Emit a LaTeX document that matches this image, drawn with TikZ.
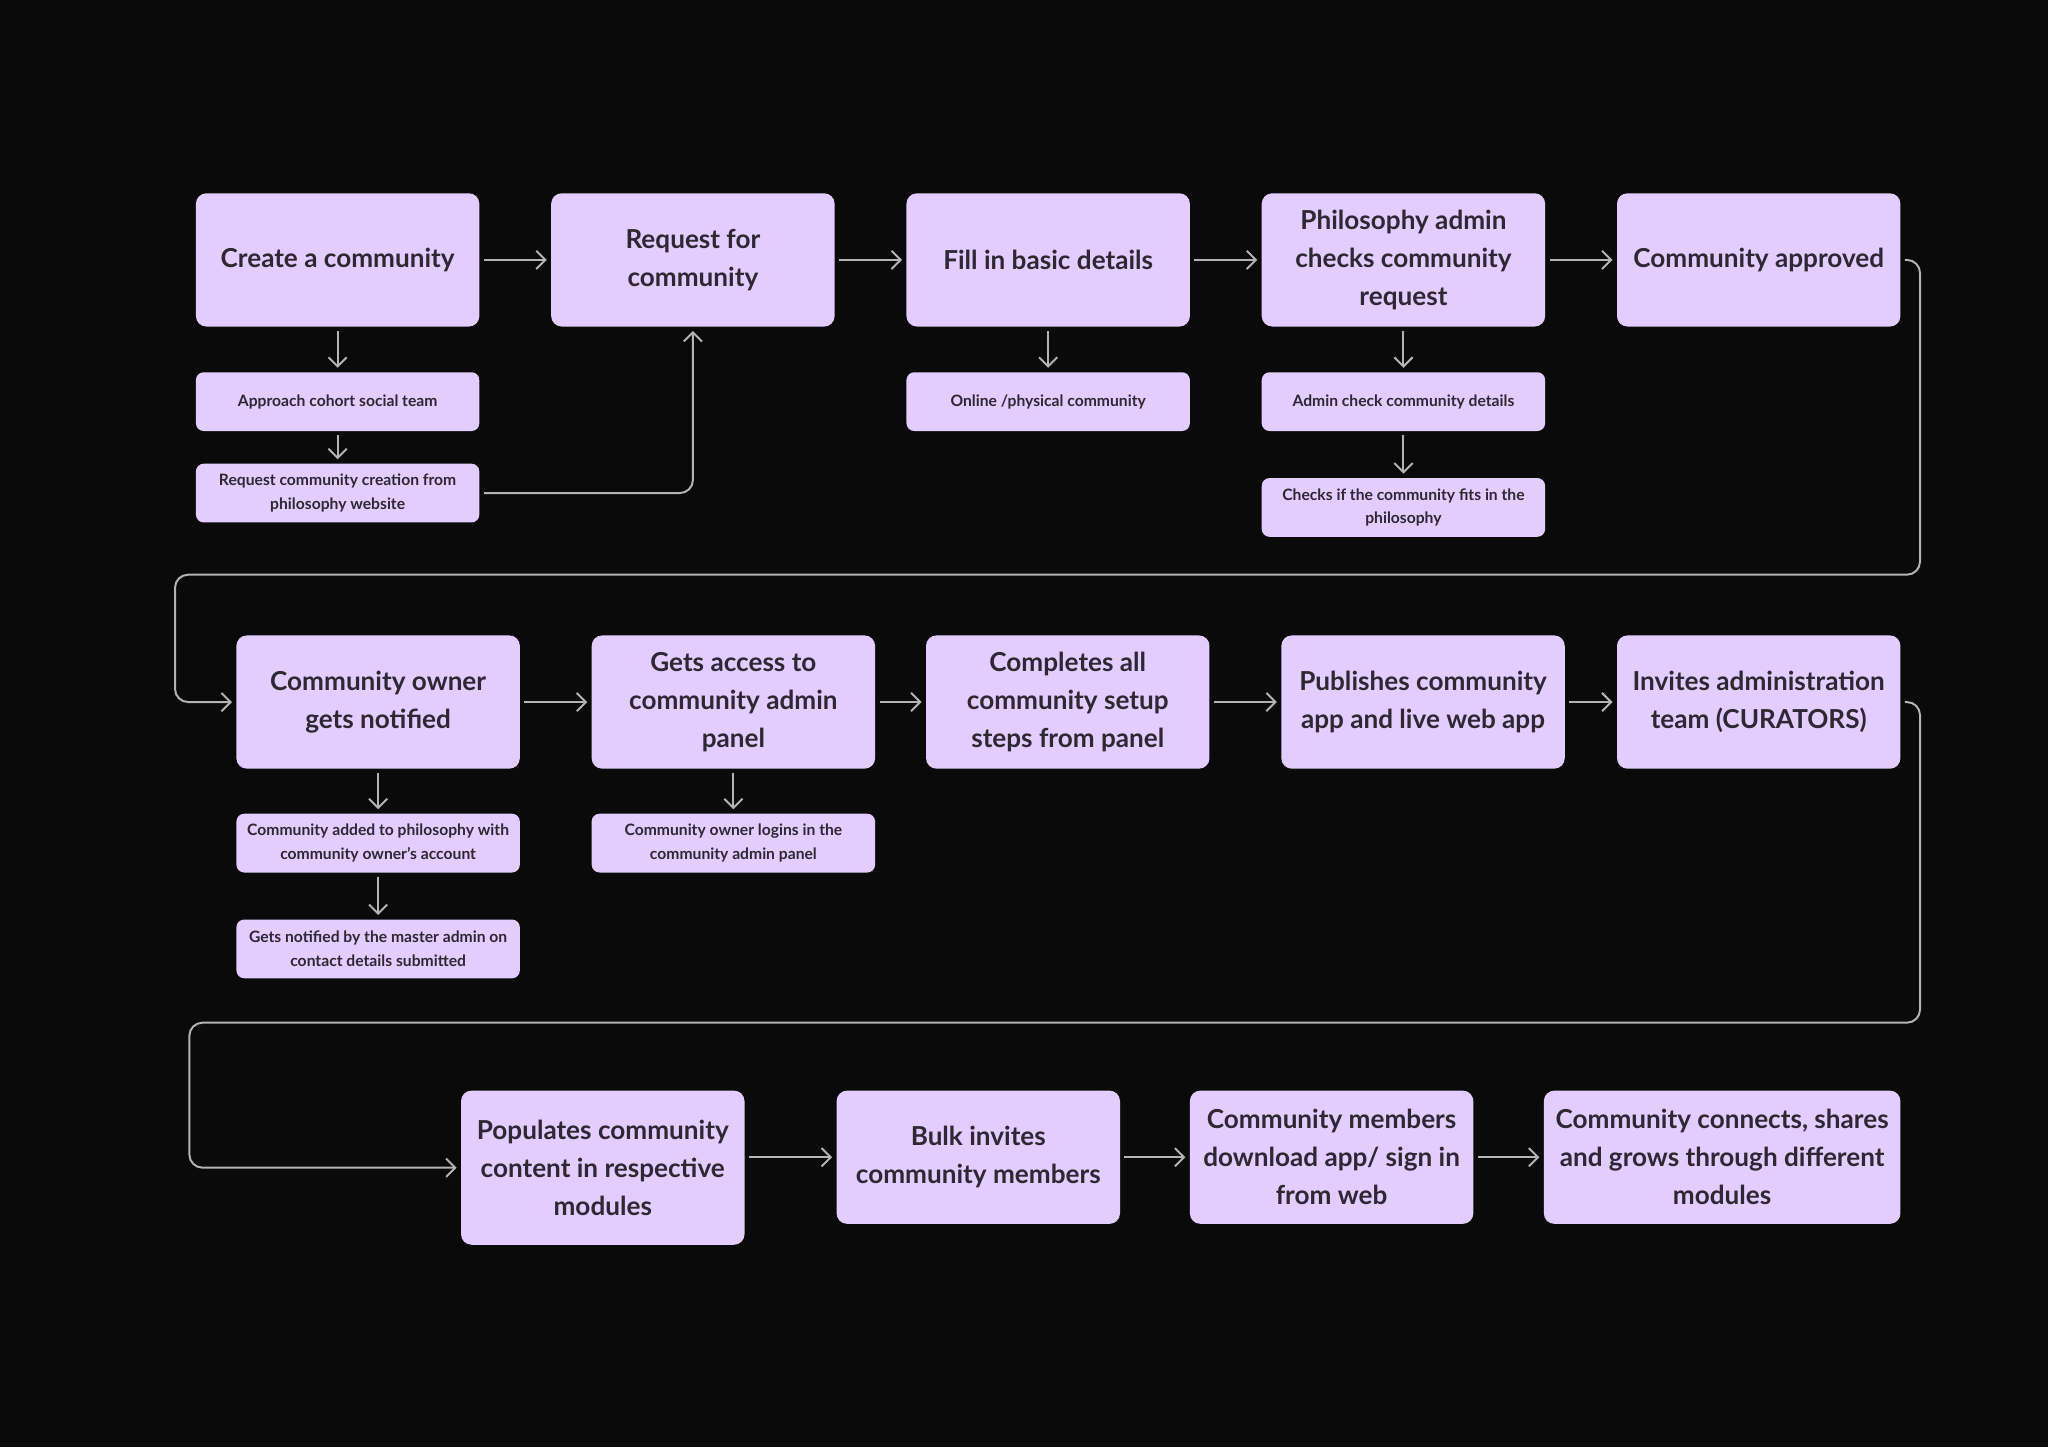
\documentclass[tikz,border=0pt]{standalone}
\usepackage{fontspec}
\setmainfont{Lato}
\usetikzlibrary{arrows.meta}
\definecolor{bgblack}{HTML}{0A0A0A}
\definecolor{lavender}{HTML}{E3CCFE}
\definecolor{inkdark}{HTML}{2D2832}
\definecolor{linegray}{HTML}{B4B4B4}

\begin{document}
\begin{tikzpicture}[x=0.5pt,y=-0.5pt,
	stepbox/.style={fill=lavender,rounded corners=4pt,minimum width=108.5pt,minimum height=51pt,inner sep=0pt,align=center,text=inkdark,font=\fontsize{10}{14.5}\selectfont\bfseries},
	subbox/.style={fill=lavender,rounded corners=3pt,minimum width=108.5pt,minimum height=22.5pt,inner sep=0pt,align=center,text=inkdark,font=\fontsize{6}{9}\selectfont\bfseries},
	flow/.style={draw=linegray,line width=0.75pt,-{Straight Barb[length=3.5pt,width=7pt]},shorten <=1.5pt,shorten >=1.5pt}]
	\fill[bgblack] (0,0) rectangle (1568,1108);
	\node[stepbox] (create) at (258.5,199) {Create a community};
	\node[stepbox] (request) at (530.5,199) {Request for\\community};
	\node[stepbox] (basic) at (802.5,199) {Fill in basic details};
	\node[stepbox] (check) at (1074.5,199) {Philosophy admin\\checks community\\request};
	\node[stepbox] (approved) at (1346.5,199) {Community approved};
	\node[subbox] (cohort) at (258.5,307.5) {Approach cohort social team};
	\node[subbox] (website) at (258.5,377.5) {Request community creation from\\philosophy website};
	\node[subbox] (online) at (802.5,307.5) {Online /physical community};
	\node[subbox] (details) at (1074.5,307.5) {Admin check community details};
	\node[subbox] (fits) at (1074.5,388.5) {Checks if the community fits in the\\philosophy};
	\node[stepbox] (owner) at (289.5,537.5) {Community owner\\gets notified};
	\node[stepbox] (access) at (561.5,537.5) {Gets access to\\community admin\\panel};
	\node[stepbox] (setup) at (817.5,537.5) {Completes all\\community setup\\steps from panel};
	\node[stepbox] (publish) at (1089.5,537.5) {Publishes community\\app and live web app};
	\node[stepbox] (curators) at (1346.5,537.5) {Invites administration\\team (CURATORS)};
	\node[subbox] (added) at (289.5,645.5) {Community added to philosophy with\\community owner’s account};
	\node[subbox] (master) at (289.5,726.5) {Gets notified by the master admin on\\contact details submitted};
	\node[subbox] (logins) at (561.5,645.5) {Community owner logins in the\\community admin panel};
	\node[stepbox,minimum height=59pt] (content) at (461.5,894) {Populates community\\content in respective\\modules};
	\node[stepbox] (bulk) at (749,886) {Bulk invites\\community members};
	\node[stepbox] (members) at (1019.5,886) {Community members\\download app/ sign in\\from web};
	\node[stepbox,minimum width=136.5pt] (grows) at (1318.5,886) {Community connects, shares\\and grows through different\\modules};
	\draw[flow] (create) -- (request);
	\draw[flow] (request) -- (basic);
	\draw[flow] (basic) -- (check);
	\draw[flow] (check) -- (approved);
	\draw[flow] (create) -- (cohort);
	\draw[flow] (cohort) -- (website);
	\draw[flow,rounded corners=5pt] (website.east) -| (request.south);
	\draw[flow] (basic) -- (online);
	\draw[flow] (check) -- (details);
	\draw[flow] (details) -- (fits);
	\draw[flow,rounded corners=5pt] (approved.east) -| (1470,440) -- (134,440) |- (owner.west);
	\draw[flow] (owner) -- (access);
	\draw[flow] (access) -- (setup);
	\draw[flow] (setup) -- (publish);
	\draw[flow] (publish) -- (curators);
	\draw[flow] (owner) -- (added);
	\draw[flow] (added) -- (master);
	\draw[flow] (access) -- (logins);
	\draw[flow,rounded corners=5pt] (curators.east) -| (1470,783) -- (145,783) |- (content.west);
	\draw[flow] (content.east |- bulk.west) -- (bulk);
	\draw[flow] (bulk) -- (members);
	\draw[flow] (members) -- (grows);
\end{tikzpicture}
\end{document}
